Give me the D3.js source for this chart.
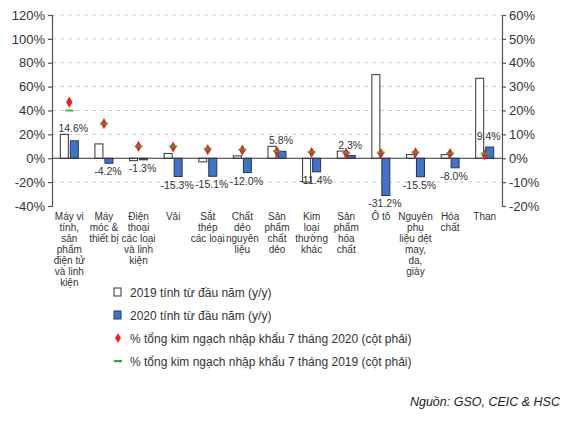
<!DOCTYPE html>
<html><head><meta charset="utf-8">
<script src="https://cdn.jsdelivr.net/npm/d3@7"></script>
<style>body{margin:0;background:#fff}text{font-family:Arial,"Liberation Sans",sans-serif}</style>
</head><body><svg width="579" height="424"></svg>
<script>
const categories = [
  ['Máy vi','tính,','sản','phẩm','điện tử','và linh','kiện'],
  ['Máy','móc &','thiết bị'],
  ['Điện','thoại','các loại','và linh','kiện'],
  ['Vải'],
  ['Sắt','thép','các loại'],
  ['Chất','dẻo','nguyên','liệu'],
  ['Sản','phẩm','chất','dẻo'],
  ['Kim','loại','thường','khác'],
  ['Sản','phẩm','hóa','chất'],
  ['Ô tô'],
  ['Nguyên','phụ','liệu dệt','may,','da,','giày'],
  ['Hóa','chất'],
  ['Than']
];
const ytd2019 = [20, 12, -2, 4, -3, 2, 10, -20, 6, 70, 3, 3, 67];
const ytd2020 = [14.6, -4.2, -1.3, -15.3, -15.1, -12.0, 5.8, -11.4, 2.3, -31.2, -15.5, -8.0, 9.4];
const share2020 = [23.5, 14.5, 5, 4.7, 3.6, 3.4, 2.8, 2.4, 2, 2, 2.3, 2, 1.4];
const share2019 = [20, 14.5, 5, 5, 4, 3.6, 3, 2.6, 2.4, 2.4, 2.5, 2, 2];
const leftTicks = [-40, -20, 0, 20, 40, 60, 80, 100, 120];
const rightTicks = [-20, -10, 0, 10, 20, 30, 40, 50, 60];
const legendLabels = ['2019 tính từ đầu năm (y/y)','2020 tính từ đầu năm (y/y)',
  '% tổng kim ngạch nhập khẩu 7 tháng 2020 (cột phải)','% tổng kim ngạch nhập khẩu 7 tháng 2019 (cột phải)'];

const svg = d3.select('svg');
const L = 52, R = 502, T = 15, B = 206;
const x = d3.scaleBand().domain(d3.range(categories.length)).range([L, R]);
const y = d3.scaleLinear().domain([-40, 120]).range([B, T]);
const y2 = d3.scaleLinear().domain([-20, 60]).range([B, T]);
const bw = 8;

// grid
svg.append('g').selectAll('line').data(leftTicks.filter(d => d !== 0 && d !== -40)).join('line')
  .attr('x1', L).attr('x2', R).attr('y1', d => y(d)).attr('y2', d => y(d))
  .attr('stroke', '#ccc').attr('stroke-dasharray', '4,4');

const ax = svg.append('g').attr('transform', `translate(${L},0)`)
  .call(d3.axisLeft(y).tickValues(leftTicks).tickFormat(d => d + '%').tickSize(4));
const ax2 = svg.append('g').attr('transform', `translate(${R},0)`)
  .call(d3.axisRight(y2).tickValues(rightTicks).tickFormat(d => d + '%').tickSize(4));
[ax, ax2].forEach(a => {
  a.selectAll('path,line').attr('stroke', '#555').attr('stroke-width', 1.2);
  a.selectAll('text').attr('font-size', 13).attr('fill', '#333');
});

const cx = i => x(i) + x.bandwidth() / 2;
svg.append('g').selectAll('rect').data(ytd2019).join('rect')
  .attr('x', (d, i) => cx(i) - bw - 1).attr('width', bw)
  .attr('y', d => y(Math.max(0, d))).attr('height', d => Math.abs(y(d) - y(0)))
  .attr('fill', '#fff').attr('stroke', '#333').attr('stroke-width', 1);
svg.append('g').selectAll('rect').data(ytd2020).join('rect')
  .attr('x', (d, i) => cx(i) + 1).attr('width', bw)
  .attr('y', d => y(Math.max(0, d))).attr('height', d => Math.abs(y(d) - y(0)))
  .attr('fill', '#4472c4').attr('stroke', '#1f3864').attr('stroke-width', 1);

svg.append('line').attr('x1', L).attr('x2', R).attr('y1', y(0)).attr('y2', y(0)).attr('stroke', '#333');

svg.append('g').selectAll('text').data(ytd2020).join('text')
  .attr('x', (d, i) => cx(i) + 4)
  .attr('y', d => d >= 0 ? y(Math.max(d, 0)) - 7 + (d > 12 ? -2 : 0) : y(d) + 12)
  .attr('text-anchor', 'middle').attr('font-size', 10.5).attr('fill', '#333')
  .text(d => d.toFixed(1) + '%');

// markers
svg.append('g').selectAll('path').data(share2020).join('path')
  .attr('d', d3.symbol(d3.symbolDiamond, 36))
  .attr('transform', (d, i) => `translate(${cx(i)},${y2(d)})`).attr('fill', '#e8231f');
svg.append('g').selectAll('rect').data(share2019).join('rect')
  .attr('x', (d, i) => cx(i) - 4).attr('y', d => y2(d) - 1).attr('width', 8).attr('height', 2)
  .attr('fill', '#2ea84a').attr('opacity', 0.85);

// category labels
const cl = svg.append('g');
categories.forEach((lines, i) => {
  const t = cl.append('text').attr('x', cx(i)).attr('y', 220).attr('text-anchor', 'middle')
    .attr('font-size', 10).attr('fill', '#333');
  lines.forEach((s, j) => t.append('tspan').attr('x', cx(i)).attr('dy', j ? 11 : 0).text(s));
});

// legend
const lg = svg.append('g').attr('transform', 'translate(118,292)');
legendLabels.forEach((s, i) => {
  const g = lg.append('g').attr('transform', `translate(0,${i * 23})`);
  if (i === 0) g.append('rect').attr('x', -4).attr('y', -4).attr('width', 7).attr('height', 8).attr('fill', '#fff').attr('stroke', '#333');
  if (i === 1) g.append('rect').attr('x', -4).attr('y', -4).attr('width', 7).attr('height', 8).attr('fill', '#4472c4').attr('stroke', '#1f3864');
  if (i === 2) g.append('path').attr('d', d3.symbol(d3.symbolDiamond, 30)).attr('fill', '#e8231f');
  if (i === 3) g.append('rect').attr('x', -4).attr('y', -1).attr('width', 8).attr('height', 2.2).attr('fill', '#2ea84a');
  g.append('text').attr('x', 12).attr('y', 4.5).attr('font-size', 12).attr('fill', '#333').text(s);
});

svg.append('text').attr('x', 560).attr('y', 406).attr('text-anchor', 'end')
  .attr('font-size', 12.5).attr('font-style', 'italic').attr('fill', '#222').text('Nguồn: GSO, CEIC & HSC');
</script></body></html>
